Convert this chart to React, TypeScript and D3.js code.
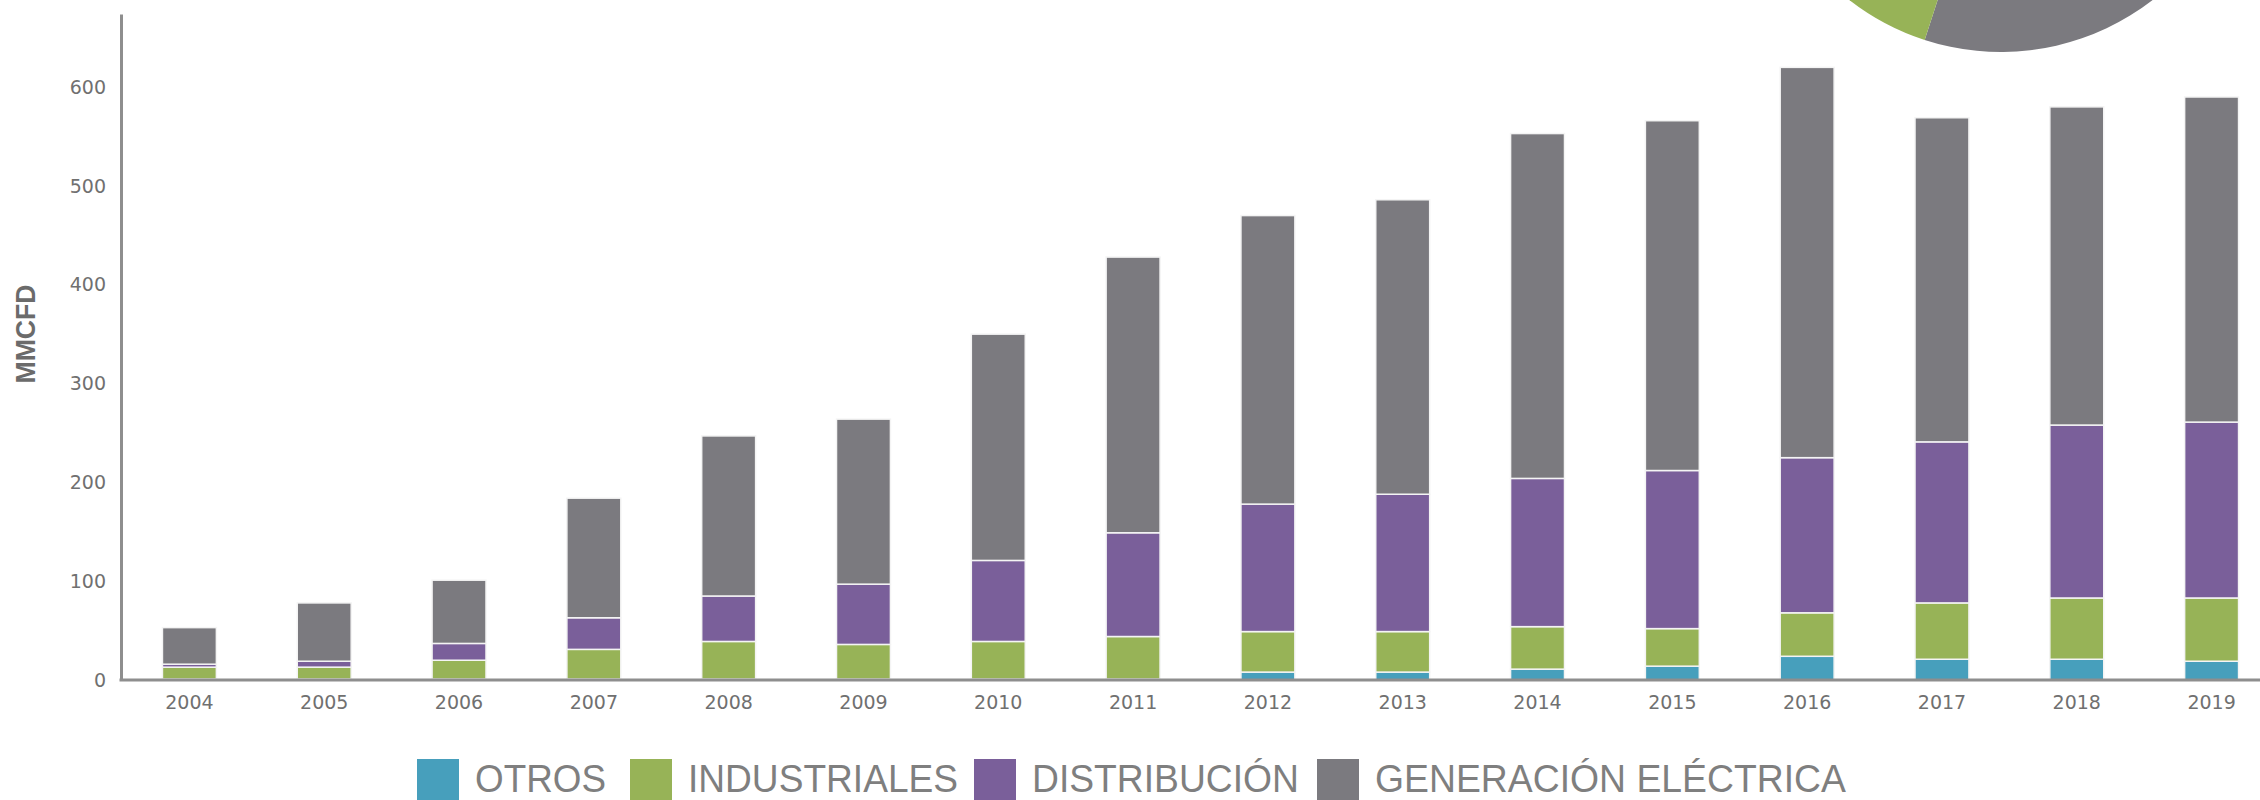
import * as d3 from "d3";
import { useEffect, useRef } from "react";

// categories
const years = ["2004", "2005", "2006", "2007", "2008", "2009", "2010", "2011", "2012", "2013", "2014", "2015", "2016", "2017", "2018", "2019"];

// series values (MMCFD)
const otros = [1, 1, 1, 1, 1, 1, 1, 1, 8, 8, 11, 14, 24, 21, 21, 19];
const industriales = [12, 12, 19, 30, 38, 35, 38, 43, 41, 41, 43, 38, 44, 57, 62, 64];
const distribucion = [3, 6, 17, 32, 46, 61, 82, 105, 129, 139, 150, 160, 157, 163, 175, 178];
const generacion = [37, 59, 64, 121, 162, 167, 229, 279, 292, 298, 349, 354, 395, 328, 322, 329];

const yTicks = [0, 100, 200, 300, 400, 500, 600];

const seriesNames = ["OTROS", "INDUSTRIALES", "DISTRIBUCIÓN", "GENERACIÓN ELÉCTRICA"];
const seriesColors = ["#479fbc", "#97b357", "#7a5f9a", "#7b7a7f"];

// the pie in the corner (shares, %)
const pieNames = ["GENERACIÓN ELÉCTRICA", "INDUSTRIALES", "DISTRIBUCIÓN", "OTROS"];
const pieValues = [55, 11, 30, 4];
const pieColors = ["#7b7a7f", "#97b357", "#7a5f9a", "#479fbc"];

function App() {
  const ref = useRef<SVGSVGElement | null>(null);

  useEffect(() => {
    document.body.style.margin = "0";
    const svg = d3.select(ref.current);
    svg.selectAll("*").remove();

    const left = 121, bottom = 680, top = 14;

    const x = d3.scaleBand()
      .domain(years)
      .range([122, 2279])
      .paddingInner(0.6)
      .paddingOuter(0.3);

    const y = d3.scaleLinear()
      .domain([0, 674])
      .range([bottom, top]);

    // pie, mostly off the top edge
    const pie = d3.pie<number>().sort(null).value((d) => d);
    const arc = d3.arc<d3.PieArcDatum<number>>().innerRadius(0).outerRadius(247);
    svg.append("g")
      .attr("transform", "translate(2001,-195)")
      .selectAll("path")
      .data(pie(pieValues))
      .join("path")
      .attr("d", arc)
      .attr("fill", (_, i) => pieColors[i])
      .append("title").text((_, i) => pieNames[i]);

    // stacked bars
    const rows = years.map((yr, i) => ({
      year: yr,
      OTROS: otros[i],
      INDUSTRIALES: industriales[i],
      "DISTRIBUCIÓN": distribucion[i],
      "GENERACIÓN ELÉCTRICA": generacion[i],
    }));
    const stack = d3.stack<any>().keys(seriesNames);
    const layers = stack(rows);

    svg.append("g")
      .selectAll("g")
      .data(layers)
      .join("g")
      .attr("fill", (_, i) => seriesColors[i])
      .selectAll("rect")
      .data((d) => d)
      .join("rect")
      .attr("x", (d: any) => x(d.data.year)!)
      .attr("y", (d) => y(d[1]))
      .attr("width", x.bandwidth())
      .attr("height", (d) => Math.max(0, y(d[0]) - y(d[1])))
      .attr("stroke", "#f4f4f4")
      .attr("stroke-width", 1.5);

    // y axis
    const yAxis = svg.append("g")
      .attr("transform", `translate(${left},0)`)
      .call(d3.axisLeft(y).tickValues(yTicks).tickSize(0).tickSizeOuter(0).tickPadding(15));
    yAxis.select(".domain").attr("stroke", "#8e8e8e").attr("stroke-width", 3);
    yAxis.selectAll("text")
      .attr("font-family", "DejaVu Sans")
      .attr("font-size", 19)
      .attr("fill", "#707070");

    // x axis
    const xAxis = svg.append("g")
      .attr("transform", `translate(0,${bottom})`)
      .call(d3.axisBottom(x).tickSize(0).tickSizeOuter(0).tickPadding(16));
    xAxis.select(".domain").attr("stroke", "#8e8e8e").attr("stroke-width", 3)
      .attr("d", `M${left - 1.5},0H2260`);
    xAxis.selectAll("text")
      .attr("font-family", "DejaVu Sans")
      .attr("font-size", 19)
      .attr("fill", "#707070");

    // y title
    svg.append("text")
      .attr("transform", "translate(25,334) rotate(-90)")
      .attr("text-anchor", "middle")
      .attr("dominant-baseline", "central")
      .attr("font-family", "Liberation Sans, Arial, sans-serif")
      .attr("font-weight", "bold")
      .attr("font-size", 28)
      .attr("textLength", 99)
      .attr("lengthAdjust", "spacingAndGlyphs")
      .attr("fill", "#6b6b6b")
      .text("MMCFD");

    // legend
    const legX = [417, 630, 974, 1317];
    const legW = [131, 270, 267, 471];
    const leg = svg.append("g")
      .selectAll("g")
      .data(seriesNames)
      .join("g")
      .attr("transform", (_, i) => `translate(${legX[i]},0)`);
    leg.append("rect")
      .attr("x", 0).attr("y", 759)
      .attr("width", 42).attr("height", 45)
      .attr("fill", (_, i) => seriesColors[i]);
    leg.append("text")
      .attr("x", 58).attr("y", 792)
      .attr("font-family", "Liberation Sans, Arial, sans-serif")
      .attr("font-size", 39)
      .attr("textLength", (_, i) => legW[i])
      .attr("lengthAdjust", "spacingAndGlyphs")
      .attr("fill", "#7f7f7f")
      .text((d) => d);
  }, []);

  return <svg ref={ref} width={2260} height={800} style={{ display: "block", background: "#fff" }}></svg>;
}

export default App;
